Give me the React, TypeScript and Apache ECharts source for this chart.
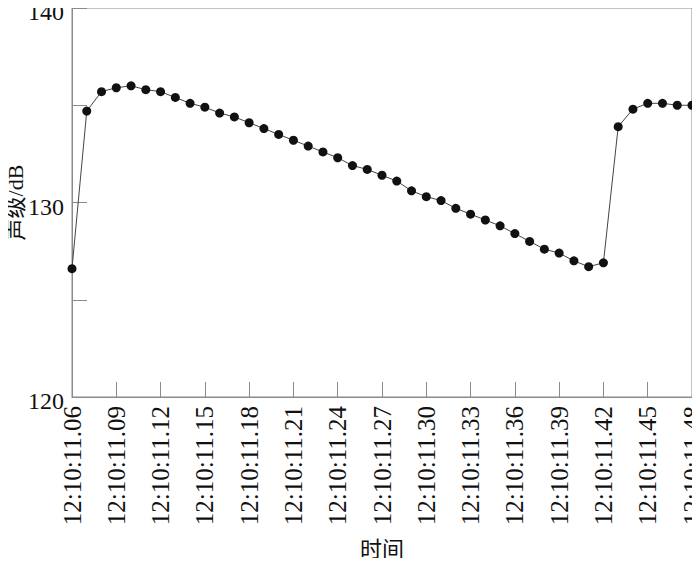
import React, { useEffect, useRef } from "react";
import * as echarts from "echarts";

const categories = [
  "12:10:11.06","12:10:11.07","12:10:11.08","12:10:11.09","12:10:11.10","12:10:11.11","12:10:11.12",
  "12:10:11.13","12:10:11.14","12:10:11.15","12:10:11.16","12:10:11.17","12:10:11.18","12:10:11.19",
  "12:10:11.20","12:10:11.21","12:10:11.22","12:10:11.23","12:10:11.24","12:10:11.25","12:10:11.26",
  "12:10:11.27","12:10:11.28","12:10:11.29","12:10:11.30","12:10:11.31","12:10:11.32","12:10:11.33",
  "12:10:11.34","12:10:11.35","12:10:11.36","12:10:11.37","12:10:11.38","12:10:11.39","12:10:11.40",
  "12:10:11.41","12:10:11.42","12:10:11.43","12:10:11.44","12:10:11.45","12:10:11.46","12:10:11.47",
  "12:10:11.48",
];

const soundLevel = [
  126.6, 134.7, 135.7, 135.9, 136.0, 135.8, 135.7,
  135.4, 135.1, 134.9, 134.6, 134.4, 134.1, 133.8,
  133.5, 133.2, 132.9, 132.6, 132.3, 131.9, 131.7,
  131.4, 131.1, 130.6, 130.3, 130.1, 129.7, 129.4,
  129.1, 128.8, 128.4, 128.0, 127.6, 127.4, 127.0,
  126.7, 126.9, 133.9, 134.8, 135.1, 135.1, 135.0,
  135.0,
];

const yTickLabels = [120, 130, 140];

const SERIF = "'Liberation Serif', 'Times New Roman', 'Noto Sans CJK SC', serif";
const AXIS_GRAY = "#8a8a8a";

export default function App() {
  const ref = useRef<HTMLDivElement>(null);
  useEffect(() => {
    if (!ref.current) return;
    const chart = echarts.init(ref.current, undefined, { renderer: "svg" });
    chart.setOption({
      animation: false,
      backgroundColor: "#ffffff",
      grid: {
        left: 72,
        right: 8,
        top: 8,
        bottom: 169,
        containLabel: false,
        outerBoundsMode: "none",
        show: true,
        borderColor: AXIS_GRAY,
        borderWidth: 1,
        backgroundColor: "transparent",
      },
      xAxis: {
        type: "category",
        data: categories,
        boundaryGap: false,
        name: "时间",
        nameLocation: "middle",
        nameGap: 141,
        nameMoveOverlap: false,
        nameTextStyle: { fontFamily: SERIF, fontSize: 22, lineHeight: 22, color: "#111" },
        axisLine: { lineStyle: { color: AXIS_GRAY, width: 1 } },
        axisTick: { inside: true, length: 15, interval: 2, lineStyle: { color: AXIS_GRAY } },
        axisLabel: {
          interval: 2,
          rotate: 90,
          margin: 9,
          fontFamily: SERIF,
          fontSize: 25,
          lineHeight: 14,
          color: "#111",
          hideOverlap: false,
        },
        splitLine: { show: false },
      },
      yAxis: {
        type: "value",
        min: 120,
        max: 140,
        interval: 5,
        name: "声级/dB",
        nameLocation: "middle",
        nameGap: 46,
        nameMoveOverlap: false,
        nameTextStyle: { fontFamily: SERIF, fontSize: 22, lineHeight: 22, color: "#111" },
        axisLine: { show: true, lineStyle: { color: AXIS_GRAY, width: 1 } },
        axisTick: { show: true, inside: true, length: 15, lineStyle: { color: AXIS_GRAY } },
        axisLabel: {
          margin: 8,
          fontFamily: SERIF,
          fontSize: 24,
          lineHeight: 8,
          verticalAlign: "top",
          color: "#111",
          formatter: (v: number) => (yTickLabels.includes(v) ? String(v) : ""),
        },
        splitLine: { show: false },
      },
      series: [
        {
          type: "line",
          data: soundLevel,
          symbol: "circle",
          symbolSize: 9,
          showSymbol: true,
          itemStyle: { color: "#111" },
          lineStyle: { color: "#444", width: 1 },
        },
      ],
    });
    return () => chart.dispose();
  }, []);
  return <div ref={ref} style={{ width: 700, height: 566, margin: -8 }} />;
}
